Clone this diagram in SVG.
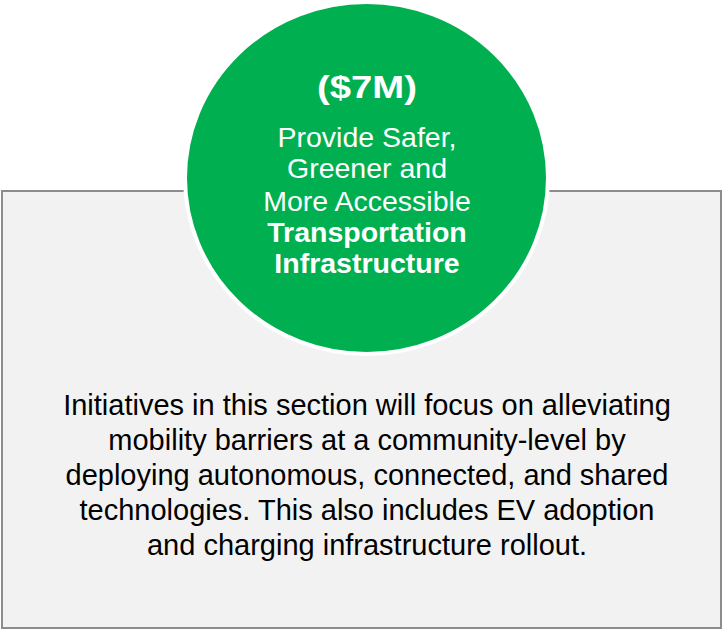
<svg xmlns="http://www.w3.org/2000/svg" width="722" height="630" viewBox="0 0 722 630">
<style>
.t{font-family:"Liberation Sans",Arial,sans-serif;text-anchor:middle}
.w{fill:#ffffff;font-size:28.5px}
.b{font-weight:bold}
.body{fill:#000000;font-size:29px}
</style>
<rect x="0" y="0" width="722" height="630" fill="#ffffff"/>
<g id="panel">
<rect x="2" y="191" width="719" height="437" fill="#f2f2f2" stroke="#8c8c8c" stroke-width="2"/>
<text class="t body" x="367" y="415">Initiatives in this section will focus on alleviating</text>
<text class="t body" x="367" y="450">mobility barriers at a community-level by</text>
<text class="t body" x="367" y="485">deploying autonomous, connected, and shared</text>
<text class="t body" x="367" y="520">technologies. This also includes EV adoption</text>
<text class="t body" x="367" y="555">and charging infrastructure rollout.</text>
</g>
<g id="circle">
<ellipse cx="366.5" cy="178" rx="181.5" ry="176" fill="#00b050" stroke="#ffffff" stroke-width="4"/>
<text class="t w b" x="367" y="98" textLength="100" lengthAdjust="spacingAndGlyphs" style="font-size:31px">($7M)</text>
<text class="t w" x="367" y="146.5">Provide Safer,</text>
<text class="t w" x="367" y="178">Greener and</text>
<text class="t w" x="367" y="210.5">More Accessible</text>
<text class="t w b" x="367" y="242">Transportation</text>
<text class="t w b" x="367" y="273">Infrastructure</text>
</g>
</svg>
